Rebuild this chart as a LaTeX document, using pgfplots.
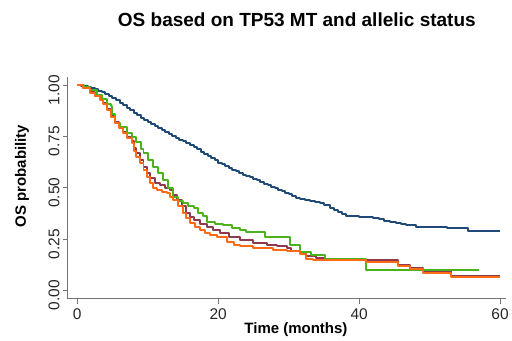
\documentclass[border=0pt]{standalone}
\usepackage{fontspec}
\setmainfont{Liberation Sans}
\usepackage{pgfplots}
\pgfplotsset{compat=1.18}
\definecolor{cblue}{RGB}{31,74,120}
\definecolor{cgreen}{RGB}{76,178,26}
\definecolor{cmaroon}{RGB}{142,58,78}
\definecolor{corange}{RGB}{255,106,20}
\begin{document}
\begin{tikzpicture}[x=1pt,y=1pt]
\path (0,0) rectangle (512,337);
\begin{axis}[
  at={(68pt,38pt)}, anchor=south west,
  scale only axis, width=438.7pt, height=222pt,
  xmin=-1.32, xmax=60.9, ymin=-0.041, ymax=1.039,
  axis x line*=bottom, axis y line*=left,
  axis line style={-, draw=black!55, line width=1pt},
  tick style={draw=black!55, line width=0.8pt},
  tick align=outside, major tick length=5pt,
  xtick={0,20,40,60}, ytick={0,0.25,0.5,0.75,1},
  yticklabels={0.00,0.25,0.50,0.75,1.00},
  /pgf/number format/assume math mode=true,
  ticklabel style={font=\fontsize{15.5}{17}\selectfont, text=black!85},
  yticklabel style={rotate=90, anchor=south, xshift=-5pt},
  xticklabel style={yshift=-1.5pt},
  xlabel={Time (months)}, ylabel={OS probability},
  xlabel style={font=\bfseries\fontsize{15}{17}\selectfont, at={(rel axis cs:0.52,-0.14)}, anchor=center},
  ylabel style={font=\bfseries\fontsize{15}{17}\selectfont, at={(rel axis cs:-0.105,0.554)}, anchor=center, rotate=0},
  title={OS based on TP53 MT and allelic status},
  title style={font=\bfseries\fontsize{19}{21}\selectfont, at={(rel axis cs:0.522,1.23)}, anchor=center},
  clip=false,
  every axis plot/.append style={line width=2pt, line join=round},
]
\addplot[const plot, cblue] coordinates {
(0,1) (0.5,0.997) (1,0.993) (1.5,0.988) (2,0.983) (2.5,0.978) (3,0.972) (3.5,0.965) (4,0.955) (4.5,0.945) (5,0.936) (5.5,0.925) (6,0.913) (6.5,0.902) (7,0.89) (7.5,0.877) (8,0.864) (8.5,0.852) (9,0.841) (9.5,0.831) (10,0.821) (10.5,0.811) (11,0.801) (11.5,0.791) (12,0.78) (12.5,0.769) (13,0.759) (13.5,0.75) (14,0.742) (14.5,0.733) (15,0.725) (15.5,0.716) (16,0.706) (16.5,0.696) (17,0.686) (17.5,0.676) (18,0.666) (18.5,0.655) (19,0.644) (19.5,0.633) (20,0.622) (20.5,0.613) (21,0.604) (21.5,0.596) (22,0.588) (22.5,0.58) (23,0.572) (23.5,0.564) (24,0.557) (24.5,0.55) (25,0.543) (25.5,0.535) (26,0.528) (26.5,0.52) (27,0.513) (27.5,0.505) (28,0.498) (28.5,0.49) (29,0.483) (29.5,0.476) (30,0.468) (30.5,0.46) (31,0.452) (31.6,0.443) (32.3,0.438) (33,0.434) (33.7,0.43) (34.4,0.425) (35,0.415) (35.8,0.40) (36.4,0.39) (37,0.38) (37.6,0.371) (38.2,0.363) (39,0.361) (40,0.358) (41,0.355) (42,0.352) (42.8,0.346) (43.6,0.34) (44.4,0.335) (45.2,0.329) (46,0.324) (46.7,0.319) (48.1,0.311) (50,0.307) (52.4,0.303) (55.5,0.287) (60,0.287)};
\addplot[const plot, cmaroon] coordinates {
(0,1) (0.8,0.987) (1.8,0.965) (2.5,0.948) (3.2,0.93) (3.7,0.91) (4.2,0.885) (4.8,0.85) (5.35,0.82) (5.9,0.795) (6.5,0.77) (7.1,0.748) (7.7,0.725) (8.1,0.695) (8.4,0.67) (8.9,0.635) (9.4,0.603) (9.9,0.572) (10.3,0.546) (11,0.525) (11.7,0.514) (12.4,0.5) (13.1,0.489) (13.6,0.465) (14.1,0.441) (14.8,0.41) (15.5,0.376) (16,0.355) (16.5,0.343) (17.4,0.325) (18.4,0.311) (19.3,0.295) (20.2,0.28) (21.5,0.262) (23.1,0.246) (25,0.23) (26.9,0.222) (28.3,0.214) (29.7,0.206) (30.4,0.19) (31.6,0.182) (32.5,0.166) (33.9,0.157) (35.1,0.15) (41,0.148) (45.5,0.126) (47.2,0.11) (49.1,0.093) (53.1,0.071) (60,0.071)};
\addplot[const plot, cgreen] coordinates {
(0,1) (1,0.99) (1.8,0.976) (2.75,0.951) (3.5,0.93) (4.2,0.905) (4.8,0.9) (5,0.86) (5.35,0.814) (6,0.795) (7,0.765) (7.7,0.745) (8.4,0.724) (9,0.69) (9.4,0.668) (10.1,0.635) (10.8,0.603) (11.5,0.57) (12.2,0.538) (12.9,0.5) (13.6,0.457) (14.3,0.435) (15,0.425) (15.7,0.412) (16.5,0.4) (17.2,0.378) (17.9,0.36) (18.4,0.335) (19.5,0.325) (20.7,0.319) (22,0.305) (23.1,0.295) (24,0.282) (26.6,0.259) (30.2,0.222) (31.6,0.186) (33.2,0.17) (35.1,0.152) (41,0.1) (57,0.1)};
\addplot[const plot, corange] coordinates {
(0,1) (0.8,0.985) (1.8,0.96) (2.5,0.945) (3.2,0.927) (3.7,0.905) (4.2,0.878) (4.8,0.845) (5.35,0.814) (5.9,0.79) (6.5,0.765) (7.1,0.74) (7.7,0.716) (8.1,0.68) (8.4,0.651) (8.9,0.62) (9.4,0.587) (9.9,0.55) (10.3,0.522) (10.8,0.5) (11.3,0.489) (12,0.48) (12.7,0.473) (13.2,0.455) (13.6,0.441) (14.3,0.41) (15,0.376) (15.5,0.35) (16,0.327) (16.7,0.31) (17.4,0.295) (18.1,0.28) (18.8,0.27) (19.8,0.258) (21.2,0.238) (22.3,0.222) (23.1,0.214) (25,0.206) (27.8,0.198) (29.7,0.19) (31.6,0.177) (32.5,0.152) (33.5,0.148) (41,0.136) (45.5,0.12) (47.2,0.104) (49.1,0.087) (53.1,0.063) (60,0.063)};
\end{axis}
\end{tikzpicture}
\end{document}
